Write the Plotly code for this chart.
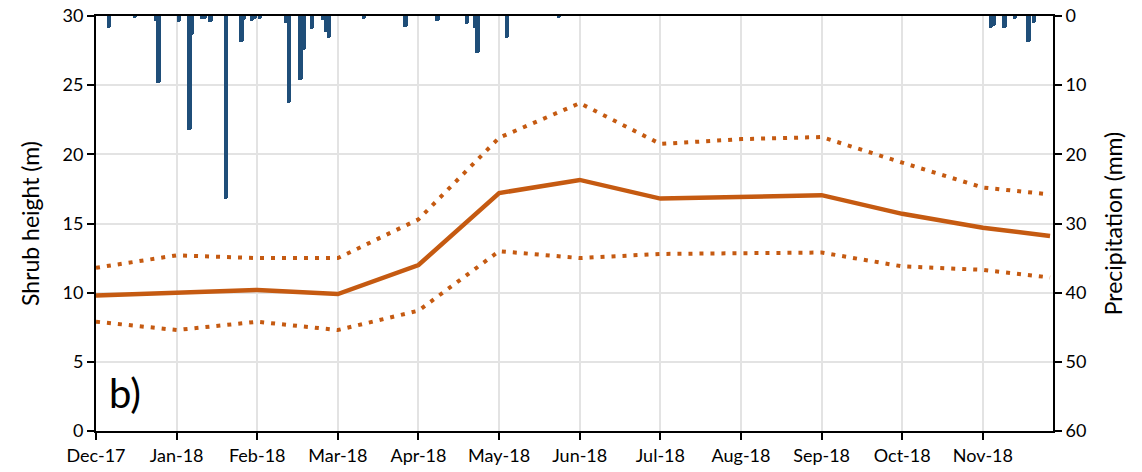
import pandas as pd
import plotly.graph_objects as go

# monthly shrub height (m): mean and upper/lower band
line_dates = ['2017-12-01', '2018-01-01', '2018-02-01', '2018-03-01', '2018-04-01',
              '2018-05-01', '2018-06-01', '2018-07-01', '2018-08-01', '2018-09-01',
              '2018-10-01', '2018-11-01', '2018-11-26']
height_mean = [9.8, 10.0, 10.2, 9.9, 12.0, 17.2, 18.15, 16.8, 16.9, 17.05, 15.7, 14.7, 14.1]
height_upper = [11.8, 12.7, 12.5, 12.5, 15.3, 21.2, 23.7, 20.75, 21.1, 21.25, 19.4, 17.6, 17.1]
height_lower = [7.9, 7.3, 7.9, 7.3, 8.7, 13.0, 12.5, 12.8, 12.85, 12.9, 11.9, 11.65, 11.1]

# daily precipitation (mm)
rain_dates = ['2017-12-06', '2017-12-16', '2017-12-24', '2017-12-25', '2018-01-02',
              '2018-01-06', '2018-01-07', '2018-01-11', '2018-01-12', '2018-01-14',
              '2018-01-20', '2018-01-26', '2018-01-27', '2018-01-30', '2018-01-31',
              '2018-02-02', '2018-02-11', '2018-02-12', '2018-02-16', '2018-02-17',
              '2018-02-20', '2018-02-24', '2018-02-25', '2018-02-26', '2018-03-11',
              '2018-03-27', '2018-04-08', '2018-04-19', '2018-04-22', '2018-04-23',
              '2018-05-04', '2018-05-24', '2018-11-04', '2018-11-05', '2018-11-09',
              '2018-11-13', '2018-11-18', '2018-11-20']
rain_mm = [1.7, 0.3, 0.7, 9.7, 0.8,
           16.5, 2.7, 0.4, 0.4, 0.8,
           26.4, 3.7, 0.6, 0.7, 0.4,
           0.4, 1.0, 12.6, 9.2, 4.9,
           1.9, 0.6, 2.3, 3.2, 0.4,
           1.6, 0.7, 1.2, 1.7, 5.4,
           3.2, 0.3, 1.7, 1.5, 1.8,
           0.4, 3.8, 1.0]

month_labels = ['Dec-17', 'Jan-18', 'Feb-18', 'Mar-18', 'Apr-18', 'May-18',
                'Jun-18', 'Jul-18', 'Aug-18', 'Sep-18', 'Oct-18', 'Nov-18']


def month_pos(d):
    # months are drawn with equal width, so place each day inside its month
    ts = pd.Timestamp(d)
    idx = (ts.year - 2017) * 12 + ts.month - 12
    return idx + (ts.day - 1) / ts.days_in_month


x_line = [month_pos(d) for d in line_dates]
x_rain = [month_pos(d) for d in rain_dates]

orange = '#C55A11'
blue = '#1F4E79'
font = 'Lato, Open Sans, sans-serif'
dots = '4px,7px'

fig = go.Figure()

fig.add_trace(go.Bar(
    x=x_rain, y=rain_mm, width=0.055, yaxis='y2',
    marker=dict(color=blue, line=dict(width=0), cornerradius=2), name='Precipitation',
))
fig.add_trace(go.Scatter(
    x=x_line, y=height_upper, mode='lines',
    line=dict(color=orange, width=4, dash=dots), name='Upper',
))
fig.add_trace(go.Scatter(
    x=x_line, y=height_lower, mode='lines',
    line=dict(color=orange, width=4, dash=dots), name='Lower',
))
fig.add_trace(go.Scatter(
    x=x_line, y=height_mean, mode='lines',
    line=dict(color=orange, width=4.5), name='Mean',
))

fig.add_annotation(
    text='b)', x=0.012, y=0.03, xref='paper', yref='paper',
    xanchor='left', yanchor='bottom', showarrow=False,
    font=dict(family=font, size=40, color='black'),
)

fig.update_layout(
    width=1142, height=472,
    margin=dict(l=96, r=89, t=16, b=41, autoexpand=False),
    paper_bgcolor='white', plot_bgcolor='white',
    showlegend=False,
    font=dict(family=font, size=18, color='black'),
    xaxis=dict(
        range=[0, 11.87], tickvals=list(range(12)), ticktext=month_labels,
        showgrid=True, gridcolor='#E3E3E3', gridwidth=1.5,
        showline=True, linecolor='black', linewidth=2, mirror=True,
        ticks='outside', ticklen=7, tickwidth=2, tickcolor='black',
        zeroline=False, automargin=False,
    ),
    yaxis=dict(
        range=[0, 30], dtick=5, ticklabeloverflow='allow',
        title=dict(text='Shrub height (m)', font=dict(size=23), standoff=16),
        showgrid=True, gridcolor='#E3E3E3', gridwidth=1.5,
        showline=True, linecolor='black', linewidth=2,
        ticks='outside', ticklen=7, tickwidth=2, tickcolor='black',
        zeroline=False, automargin=False,
    ),
    yaxis2=dict(
        range=[60, 0], dtick=10, overlaying='y', side='right',
        ticklabeloverflow='allow',
        title=dict(text='Precipitation (mm)', font=dict(size=23), standoff=20),
        showgrid=False,
        showline=True, linecolor='black', linewidth=2,
        ticks='outside', ticklen=7, tickwidth=2, tickcolor='black',
        zeroline=False, automargin=False,
    ),
    bargap=0,
)

# drop the default 8px page margin so the figure sits at the window corner
fig.write_html(
    'out.html',
    config={'displayModeBar': False},
    post_script="document.body.style.margin='0';",
)
